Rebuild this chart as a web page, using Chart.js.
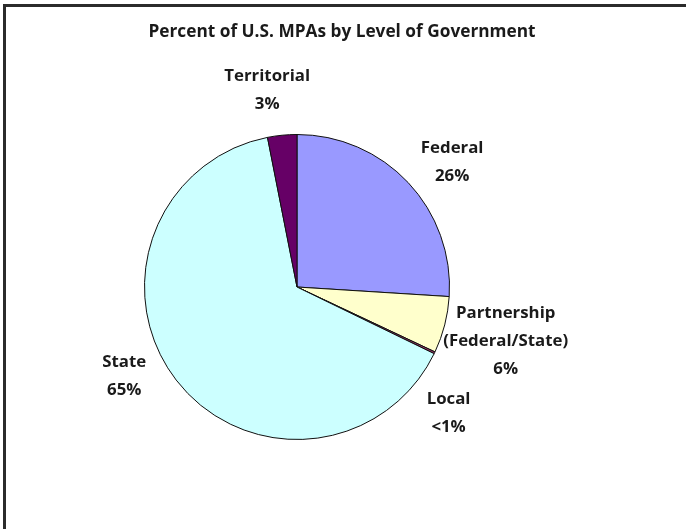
<!DOCTYPE html>
<html>
<head>
<meta charset="utf-8">
<script src="https://cdn.jsdelivr.net/npm/chart.js@4/dist/chart.umd.min.js"></script>
<style>
  html, body { margin: 0; padding: 0; background: #fff; overflow: hidden; }
  canvas { display: block; }
</style>
</head>
<body>
<canvas id="c" width="686" height="529"></canvas>
<script>
// ---- Data ----
const chartTitle = 'Percent of U.S. MPAs by Level of Government';
const categories = ['Federal', 'Partnership (Federal/State)', 'Local', 'State', 'Territorial'];
const values = [26, 6, 0.2, 64.7, 3.1];
const percentLabels = ['26%', '6%', '<1%', '65%', '3%'];
const labelNameLines = [['Federal'], ['Partnership', '(Federal/State)'], ['Local'], ['State'], ['Territorial']];

// ---- Styles ----
const sliceColors = ['#9999FF', '#FFFFCC', '#993366', '#CCFFFF', '#660066'];
const labelOffsets = [
  { dx: 44, dy: -20 },
  { dx: 61, dy: 16 },
  { dx: 14, dy: 60 },
  { dx: -52, dy: -4 },
  { dx: -15, dy: -45 }
];
const FAMILY = '"Open Sans", "Lato", "Liberation Sans", sans-serif';
const LINE_H = 28;
const TITLE_POS = { x: 342, y: 32, width: 387 };
const LABEL_REF = { text: '(Federal/State)', width: 125 };

function fitSize(ctx, text, target) {
  ctx.font = 'bold 20px ' + FAMILY;
  const w = ctx.measureText(text).width;
  return 20 * target / w;
}

const framePlugin = {
  id: 'frame',
  beforeDraw(chart) {
    const ctx = chart.ctx;
    ctx.save();
    ctx.fillStyle = '#fff';
    ctx.fillRect(0, 0, chart.width, chart.height);
    ctx.fillStyle = '#2b2b2b';
    ctx.fillRect(3, 4, chart.width - 3, 3);
    ctx.fillRect(3, 4, 3, chart.height - 4);
    ctx.restore();
  }
};

const labelPlugin = {
  id: 'sliceLabels',
  afterDraw(chart) {
    const ctx = chart.ctx;
    ctx.save();
    ctx.fillStyle = '#1a1a1a';
    ctx.textAlign = 'center';
    ctx.textBaseline = 'middle';
    const ts = fitSize(ctx, chartTitle, TITLE_POS.width);
    ctx.font = 'bold ' + ts.toFixed(2) + 'px ' + FAMILY;
    ctx.fillText(chartTitle, TITLE_POS.x, TITLE_POS.y);
    const ls = fitSize(ctx, LABEL_REF.text, LABEL_REF.width);
    ctx.font = 'bold ' + ls.toFixed(2) + 'px ' + FAMILY;
    const meta = chart.getDatasetMeta(0);
    meta.data.forEach((arc, i) => {
      const p = arc.getProps(['x', 'y', 'startAngle', 'endAngle', 'outerRadius'], true);
      const mid = (p.startAngle + p.endAngle) / 2;
      const ax = p.x + Math.cos(mid) * p.outerRadius + labelOffsets[i].dx;
      const ay = p.y + Math.sin(mid) * p.outerRadius + labelOffsets[i].dy;
      const lines = labelNameLines[i].concat([percentLabels[i]]);
      const top = ay - (lines.length - 1) * LINE_H / 2;
      lines.forEach((t, k) => ctx.fillText(t, ax, top + k * LINE_H));
    });
    ctx.restore();
  }
};

new Chart(document.getElementById('c'), {
  type: 'pie',
  data: {
    labels: categories,
    datasets: [{
      data: values,
      backgroundColor: sliceColors,
      borderColor: '#111',
      borderWidth: 1
    }]
  },
  options: {
    responsive: false,
    animation: false,
    layout: { padding: { top: 134, bottom: 89, left: 0, right: 92 } },
    plugins: {
      legend: { display: false },
      title: { display: false },
      tooltip: { enabled: false }
    }
  },
  plugins: [framePlugin, labelPlugin]
});
</script>
</body>
</html>
